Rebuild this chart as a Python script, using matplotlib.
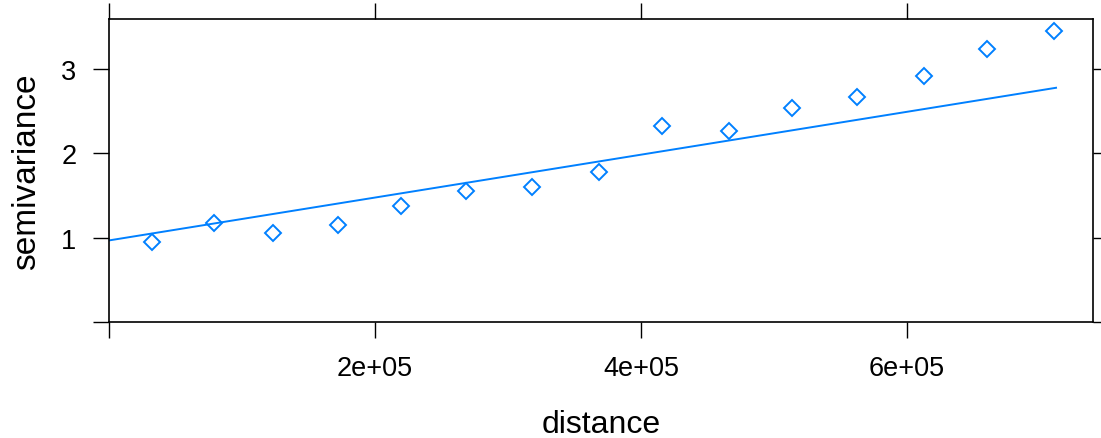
import matplotlib
matplotlib.use("Agg")
import matplotlib.pyplot as plt

plt.rcParams["font.family"] = ["Liberation Sans", "DejaVu Sans"]

dist = [32100, 79200, 123300, 172400, 219800, 268700, 317800, 368200,
        415500, 466200, 513300, 562400, 612800, 659900, 710500]
gamma = [0.953, 1.176, 1.055, 1.153, 1.373, 1.549, 1.600, 1.776,
         2.318, 2.267, 2.538, 2.662, 2.910, 3.232, 3.451]

# fitted linear model line, end points
model_dist = [0, 712000]
model_gamma = [0.969, 2.776]

x_ticks = [0, 2e5, 4e5, 6e5]
x_labels = ["", "2e+05", "4e+05", "6e+05"]
y_ticks = [0, 1, 2, 3]
y_labels = ["", "1", "2", "3"]

blue = "#0080FF"

fig = plt.figure(figsize=(11.01, 4.39), dpi=100)
ax = fig.add_axes([0.099, 0.2636, 0.8935, 0.6908])

ax.plot(model_dist, model_gamma, color=blue, lw=1.4)
ax.plot(dist, gamma, ls="none", marker="D", markersize=8,
        markerfacecolor="none", markeredgecolor=blue, markeredgewidth=1.4)

ax.set_xlim(0, 739600)
ax.set_ylim(0.02, 3.59)

ax.set_xticks(x_ticks)
ax.set_xticklabels(x_labels)
ax.set_yticks(y_ticks)
ax.set_yticklabels(y_labels)

ax.tick_params(direction="out", length=11.5, width=1.0, color="black",
               labelsize=19.5, top=True, right=True)
ax.tick_params(axis="x", pad=12)
ax.tick_params(axis="y", pad=12)
for s in ax.spines.values():
    s.set_linewidth(1.2)
    s.set_color("black")

ax.set_xlabel("distance", fontsize=23, labelpad=20)
ax.set_ylabel("semivariance", fontsize=24, labelpad=14)

fig.savefig("out.png", dpi=100)
